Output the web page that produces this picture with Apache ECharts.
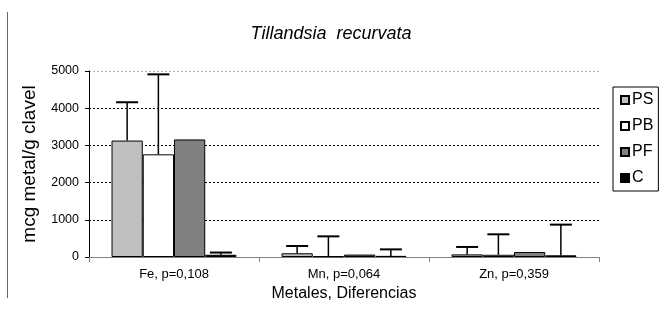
<!DOCTYPE html>
<html>
<head>
<meta charset="utf-8">
<script src="https://cdn.jsdelivr.net/npm/echarts@6/dist/echarts.min.js"></script>
<style>html,body{margin:0;padding:0;background:#fff}#c{width:659px;height:321px}</style>
</head>
<body>
<div id="c"></div>
<script>
var categories = ['Fe, p=0,108', 'Mn, p=0,064', 'Zn, p=0,359'];
var seriesNames = ['PS', 'PB', 'PF', 'C'];
var psValues = [3130, 100, 70];
var pbValues = [2760, 20, 60];
var pfValues = [3160, 65, 135];
var cValues = [60, 30, 45];
var psErrTop = [4160, 295, 270];
var pbErrTop = [4910, 555, 610];
var pfErrTop = [null, null, null];
var cErrTop = [120, 205, 870];
var yTicks = [0, 1000, 2000, 3000, 4000, 5000];

var values = [psValues, pbValues, pfValues, cValues];
var errTops = [psErrTop, pbErrTop, pfErrTop, cErrTop];
var colors = ['#c0c0c0', '#ffffff', '#808080', '#000000'];
var gapPct = 0.265;

var chart = echarts.init(document.getElementById('c'), null, {renderer: 'canvas'});

var series = seriesNames.map(function (n, i) {
  return {
    name: n, type: 'bar', data: values[i],
    barGap: '0%', barCategoryGap: (gapPct * 100) + '%',
    itemStyle: {color: colors[i], borderColor: '#000', borderWidth: 1},
    emphasis: {disabled: true}, z: 2
  };
});

var errData = [];
errTops.forEach(function (arr, si) {
  arr.forEach(function (t, ci) {
    if (t != null) errData.push([ci, values[si][ci], t, si]);
  });
});

series.push({
  type: 'custom', name: 'err', data: errData, z: 3,
  renderItem: function (params, api) {
    var ci = api.value(0), v = api.value(1), t = api.value(2), si = api.value(3);
    var base = api.coord([ci, v]);
    var top = api.coord([ci, t]);
    var cw = api.size([1, 0])[0];
    var bw = cw * (1 - gapPct) / 4;
    var x = base[0] + (si - 1.5) * bw;
    var cap = 11;
    return {type: 'group', children: [
      {type: 'line', shape: {x1: x, y1: base[1], x2: x, y2: top[1]}, style: {stroke: '#000', lineWidth: 1.5}},
      {type: 'line', shape: {x1: x - cap, y1: top[1], x2: x + cap, y2: top[1]}, style: {stroke: '#000', lineWidth: 2}}
    ]};
  }
});

chart.setOption({
  animation: false,
  backgroundColor: '#fff',
  textStyle: {fontFamily: 'Liberation Sans'},
  title: {
    text: 'Tillandsia  recurvata', left: 326, top: 20, textAlign: 'center',
    textStyle: {fontSize: 18, fontStyle: 'italic', fontWeight: 'normal', color: '#000', fontFamily: 'Liberation Sans'}
  },
  legend: {
    data: seriesNames, orient: 'vertical', left: 613, top: 87,
    itemWidth: 8, itemHeight: 8, itemGap: 10,
    padding: [5, 5, 5, 7],
    borderColor: '#000', borderWidth: 1,
    icon: 'rect',
    textStyle: {fontSize: 16, color: '#000', padding: [0, 0, 0, -2], fontFamily: 'Liberation Sans'},
    selectedMode: false
  },
  grid: {left: 89, right: 60, top: 71, bottom: 64, containLabel: false},
  xAxis: {
    type: 'category', data: categories,
    name: 'Metales, Diferencias', nameLocation: 'middle', nameGap: 21,
    nameTextStyle: {fontSize: 16, color: '#000', verticalAlign: 'top'},
    axisLine: {lineStyle: {color: '#808080', width: 1}},
    axisTick: {show: true, alignWithLabel: false, length: 5, lineStyle: {color: '#808080'}},
    axisLabel: {fontSize: 13, color: '#000', margin: 11}
  },
  yAxis: {
    type: 'value', min: 0, max: 5000, interval: 1000,
    name: 'mcg metal/g clavel', nameLocation: 'middle', nameGap: 50, nameRotate: 90,
    nameTextStyle: {fontSize: 19, color: '#000'},
    axisLine: {show: true, lineStyle: {color: '#000', width: 1}},
    axisTick: {show: true, inside: false, length: 4, lineStyle: {color: '#000'}},
    axisLabel: {fontSize: 12.5, color: '#000', margin: 10, formatter: function (v) { return String(v); }},
    splitLine: {show: true, lineStyle: {color: ['#000', '#000', '#000', '#000', '#000', '#b0b0b0'], type: [2, 2], width: 1}}
  },
  graphic: [
    {type: 'line', shape: {x1: 7.5, y1: 12, x2: 7.5, y2: 298}, style: {stroke: '#666', lineWidth: 1}}
  ],
  series: series
});
</script>
</body>
</html>
